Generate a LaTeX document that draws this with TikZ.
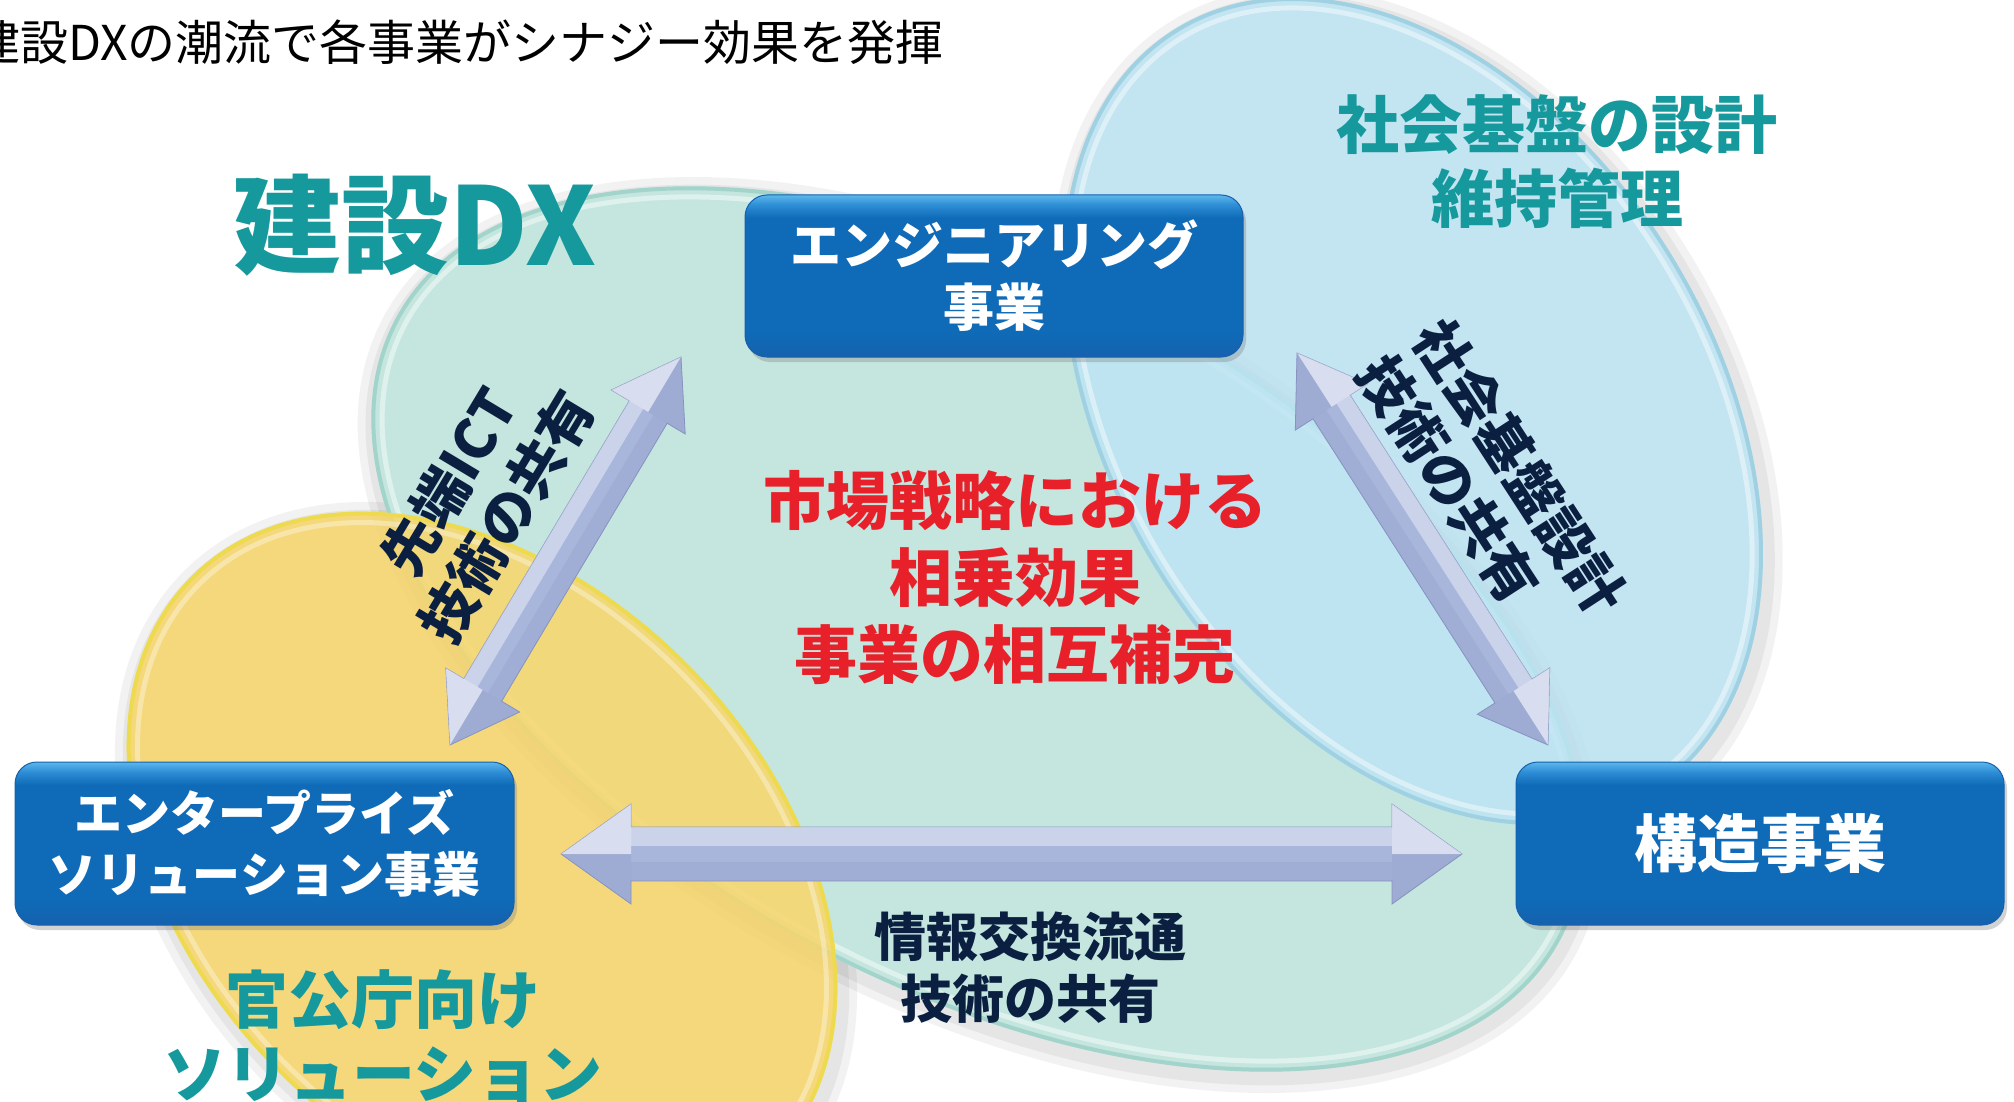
\documentclass[tikz,border=0pt]{standalone}
\usepackage{fontspec}
\newfontfamily\jp{Noto Sans CJK JP}
\usetikzlibrary{calc,shadows}
\definecolor{tealtxt}{HTML}{16999C}
\definecolor{navy}{HTML}{0B1F40}
\definecolor{redtxt}{HTML}{E8202A}
\definecolor{mint}{HTML}{C4E6DF}
\definecolor{mintrim}{HTML}{A3D4CB}
\definecolor{sky}{HTML}{BCE4F4}
\definecolor{skyrim}{HTML}{9CCFE2}
\definecolor{gold}{HTML}{F8D66A}
\definecolor{goldrim}{HTML}{EEDB4A}
\definecolor{arrfill}{HTML}{A9B6DC}
\definecolor{arrdk}{HTML}{8793C0}
\definecolor{bxmain}{HTML}{0F6BB7}
\definecolor{bxmid}{HTML}{2E8ED6}
\definecolor{bxtop}{HTML}{5DB7EA}
\definecolor{bxbot}{HTML}{1561AE}
\pgfdeclareverticalshading{boxshade}{100bp}{color(0bp)=(bxbot); color(25bp)=(bxbot); color(33bp)=(bxmain); color(68bp)=(bxmain); color(72bp)=(bxmid); color(75bp)=(bxtop); color(100bp)=(bxtop)}
\newcommand\fatarrow[6]{%
 \fill[arrfill, draw=arrdk, line width=.8pt, line join=miter]
  (#1) -- ($(#1)!#5!(#2)!#4!90:(#2)$) -- ($(#1)!#5!(#2)!#3!90:(#2)$)
  -- ($(#2)!#5!(#1)!#3!-90:(#1)$) -- ($(#2)!#5!(#1)!#4!-90:(#1)$)
  -- (#2) -- ($(#2)!#5!(#1)!#4!90:(#1)$) -- ($(#2)!#5!(#1)!#3!90:(#1)$)
  -- ($(#1)!#5!(#2)!#3!-90:(#2)$) -- ($(#1)!#5!(#2)!#4!-90:(#2)$) -- cycle;
 \fill[white, opacity=.4]
  ($(#1)!#5!(#2)!#3!90:(#2)$) -- ($(#2)!#5!(#1)!#3!-90:(#1)$)
  -- ($(#2)!#5!(#1)!#6!-90:(#1)$) -- ($(#1)!#5!(#2)!#6!90:(#2)$) -- cycle;
 \fill[arrdk, opacity=.25]
  ($(#1)!#5!(#2)!#3!-90:(#2)$) -- ($(#2)!#5!(#1)!#3!90:(#1)$)
  -- ($(#2)!#5!(#1)!#6!90:(#1)$) -- ($(#1)!#5!(#2)!#6!-90:(#2)$) -- cycle;
 \fill[white, opacity=.55] (#1) -- ($(#1)!#5!(#2)!#4!90:(#2)$) -- ($(#1)!#5!(#2)$) -- cycle;
 \fill[white, opacity=.55] (#2) -- ($(#2)!#5!(#1)!#4!-90:(#1)$) -- ($(#2)!#5!(#1)$) -- cycle;
 \fill[arrdk, opacity=.3] (#1) -- ($(#1)!#5!(#2)!#4!-90:(#2)$) -- ($(#1)!#5!(#2)$) -- cycle;
 \fill[arrdk, opacity=.3] (#2) -- ($(#2)!#5!(#1)!#4!90:(#1)$) -- ($(#2)!#5!(#1)$) -- cycle;
}
\tikzset{
  bizbox/.style={shade, shading=boxshade, draw=bxbot, line width=1pt, rounded corners=22pt,
    text=white, align=center, inner sep=0pt,
    drop shadow={opacity=.35, shadow xshift=3pt, shadow yshift=-5pt},
    font=\jp\bfseries\fontsize{51}{62}\selectfont},
  navylab/.style={text=navy, inner sep=0pt, font=\jp\bfseries\fontsize{56}{67}\selectfont},
  tealtitle/.style={text=tealtxt, align=center, inner sep=0pt, font=\jp\bfseries\fontsize{63}{74}\selectfont},
}
\begin{document}
\begin{tikzpicture}[x=1pt,y=-1pt]
\useasboundingbox[fill=white] (0,0) rectangle (2014,1102);
% soft shadows
\fill[black, opacity=.05] (980,635) ellipse[x radius=676pt, y radius=374pt, rotate=-28];
\fill[black, opacity=.05] (980,635) ellipse[x radius=668pt, y radius=366pt, rotate=-28];
\fill[black, opacity=.05] (1417,417) ellipse[x radius=466pt, y radius=318pt, rotate=-58];
\fill[black, opacity=.05] (1417,417) ellipse[x radius=458pt, y radius=310pt, rotate=-58];
\fill[black, opacity=.05] (486,873) ellipse[x radius=427pt, y radius=305pt, rotate=-45];
\fill[black, opacity=.05] (486,873) ellipse[x radius=419pt, y radius=297pt, rotate=-45];
% teal ellipse
\fill[mint] (978,629) ellipse[x radius=660pt, y radius=358pt, rotate=-28];
\draw[mintrim, line width=4pt] (978,629) ellipse[x radius=658pt, y radius=356pt, rotate=-28];
\draw[white, opacity=.45, line width=5pt] (978,629) ellipse[x radius=649pt, y radius=347pt, rotate=-28];
% yellow ellipse
\fill[gold, opacity=.85] (482,867) ellipse[x radius=411pt, y radius=289pt, rotate=-45];
\draw[goldrim, line width=4pt, opacity=.9] (482,867) ellipse[x radius=409pt, y radius=287pt, rotate=-45];
\draw[white, opacity=.35, line width=5pt] (482,867) ellipse[x radius=400pt, y radius=278pt, rotate=-45];
% blue ellipse
\fill[sky, opacity=.82] (1413,411) ellipse[x radius=450pt, y radius=302pt, rotate=-58];
\draw[skyrim, line width=4pt, opacity=.9] (1413,411) ellipse[x radius=448pt, y radius=300pt, rotate=-58];
\draw[white, opacity=.45, line width=5pt] (1413,411) ellipse[x radius=439pt, y radius=291pt, rotate=-58];
% headline
\node[anchor=east, inner sep=0pt, font=\jp\fontsize{48}{50}\selectfont] (ttl) at (944,42) {建設DXの潮流で各事業がシナジー効果を発揮};
% region titles
\node[text=tealtxt, inner sep=0pt, font=\jp\bfseries\fontsize{108}{118}\selectfont] (dx) at (415,225) {建設DX};
\node[tealtitle] (infra) at (1557,162) {社会基盤の設計\\維持管理};
\node[tealtitle] (gov) at (383,1036) {官公庁向け\\ソリューション};
% business boxes
\node[bizbox, minimum width=498pt, minimum height=162pt] (eng) at (994,276) {エンジニアリング\\事業};
\node[bizbox, minimum width=499pt, minimum height=163pt, font=\jp\bfseries\fontsize{48}{61}\selectfont] (ent) at (264.5,843.5) {エンタープライズ\\ソリューション事業};
\node[bizbox, minimum width=488pt, minimum height=163pt, font=\jp\bfseries\fontsize{63}{70}\selectfont] (str) at (1760,843.5) {構造事業};
% arrows
\coordinate (L1) at (450,745); \coordinate (L2) at (681,357);
\coordinate (R1) at (1297,353); \coordinate (R2) at (1548,745);
\coordinate (H1) at (561,854); \coordinate (H2) at (1462,854);
\fatarrow{L1}{L2}{22pt}{43pt}{64pt}{6pt}
\fatarrow{R1}{R2}{22pt}{43pt}{64pt}{6pt}
\fatarrow{H1}{H2}{27pt}{50pt}{70pt}{8pt}
% arrow labels
\node[navylab, align=center, rotate=59] (ictlab) at (478,499) {先端ICT\\技術の共有};
\node[navylab, align=left, rotate=-57] (infralab) at (1492,485) {社会基盤設計\\技術の共有};
\node[navylab, align=center, font=\jp\bfseries\fontsize{52}{62}\selectfont] (infolab) at (1030,968) {情報交換流通\\技術の共有};
% centre message
\node[text=redtxt, align=center, inner sep=0pt, font=\jp\bfseries\fontsize{63}{77}\selectfont] (msg) at (1015,578) {市場戦略における\\相乗効果\\事業の相互補完};
\end{tikzpicture}
\end{document}
